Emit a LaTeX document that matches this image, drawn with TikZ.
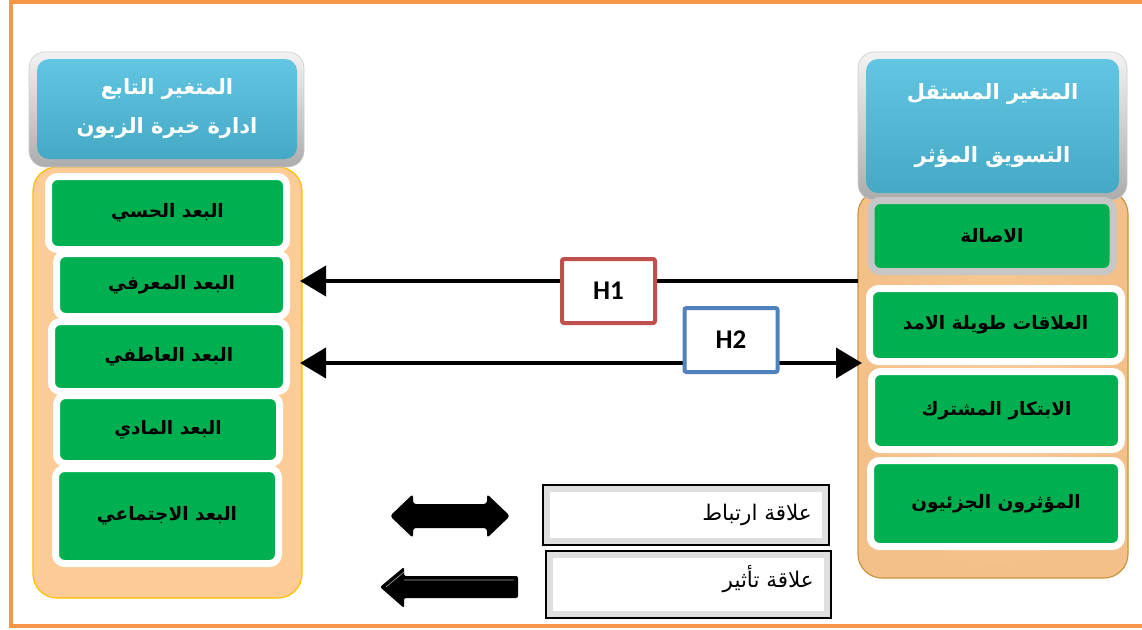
\documentclass[tikz,border=0pt]{standalone}
\usepackage{fontspec}
\setmainfont{Liberation Sans}
\newfontfamily\arfont[Script=Arabic]{DejaVu Sans}
\newfontfamily\calfont{Carlito}
\TeXXeTstate=1
\usetikzlibrary{arrows.meta,shadows}
\definecolor{frameor}{HTML}{F79646}
\definecolor{peach}{HTML}{FCCB96}
\definecolor{peachedge}{HTML}{FFC000}
\definecolor{tanedge}{HTML}{C9953F}
\definecolor{grn}{HTML}{00B050}
\definecolor{bluetop}{HTML}{62C6E2}
\definecolor{bluebot}{HTML}{45A9C6}
\definecolor{hred}{HTML}{C0504D}
\definecolor{hblue}{HTML}{4F81BD}
\tikzset{
  bgbox/.style={rounded corners=24pt, fill=peach, line width=1.2pt, inner sep=0pt},
  silver/.style={rounded corners=16pt, top color=gray!10, bottom color=gray!65, draw=gray!40, line width=0.6pt},
  headbox/.style={rounded corners=12pt, top color=bluetop, bottom color=bluebot, inner sep=0pt, align=center,
     text=white, font=\arfont\bfseries\fontsize{21}{39}\selectfont},
  gbox/.style={rounded corners=9pt, fill=grn, draw=white, line width=7pt, inner sep=0pt,
     font=\arfont\bfseries\fontsize{18.5}{22}\selectfont,
     drop shadow={shadow xshift=1.5pt, shadow yshift=-2pt, opacity=0.35}},
  hbox/.style={draw=#1, line width=4pt, fill=white, rounded corners=2pt, inner sep=0pt,
     minimum width=93pt, minimum height=64pt, font=\calfont\bfseries\fontsize{27}{30}\selectfont},
  conn/.style={line width=4pt},
  legbox/.style={draw=black, line width=2pt, fill=gray!25},
  legtext/.style={font=\arfont\fontsize{21.5}{24}\selectfont, inner sep=0pt},
}
\begin{document}
\begin{tikzpicture}[x=1pt,y=-1pt]
\useasboundingbox (0,0) rectangle (1142,629);
% outer frame
\draw[frameor, line width=4pt] (10.5,2) rectangle (1146,625.5);

% backgrounds
\node[bgbox, draw=peachedge, minimum width=269pt, minimum height=431pt] (lbg) at (167.5,382.5) {};
\node[bgbox, draw=tanedge, minimum width=270pt, minimum height=388pt, inner color=peach, outer color=peach!85!brown] (rbg) at (993,384) {};

% headers
\shade[silver] (29,52) rectangle (304,167);
\node[headbox, minimum width=260pt, minimum height=100pt] (lhead) at (167,109)
  {\beginR المتغير التابع\endR\\\beginR ادارة خبرة الزبون\endR};
\shade[silver] (858,52) rectangle (1127,200);
\node[headbox, minimum width=253pt, minimum height=134pt, font=\arfont\bfseries\fontsize{21}{63}\selectfont] (rhead) at (992.5,126)
  {\beginR المتغير المستقل\endR\\\beginR التسويق المؤثر\endR};

% left dimension boxes
\node[gbox, minimum width=238pt, minimum height=73pt] (l1) at (167.5,213) {\beginR البعد الحسي\endR};
\node[gbox, minimum width=230pt, minimum height=63pt] (l2) at (171.5,285) {\beginR البعد المعرفي\endR};
\node[gbox, minimum width=235pt, minimum height=70pt] (l3) at (169,356.5) {\beginR البعد العاطفي\endR};
\node[gbox, minimum width=223pt, minimum height=68pt] (l4) at (168,429.5) {\beginR البعد المادي\endR};
\node[gbox, minimum width=223pt, minimum height=95pt] (l5) at (167,516) {\beginR البعد الاجتماعي\endR};

% right dimension boxes
\node[gbox, draw=gray!45, minimum width=242pt, minimum height=71pt] (r1) at (992,236) {\beginR الاصالة\endR};
\node[gbox, minimum width=252pt, minimum height=73pt] (r2) at (995.5,325) {\beginR العلاقات طويلة الامد\endR};
\node[gbox, minimum width=250pt, minimum height=78pt] (r3) at (996.5,410.5) {\beginR الابتكار المشترك\endR};
\node[gbox, minimum width=251pt, minimum height=86pt] (r4) at (996,503.5) {\beginR المؤثرون الجزئيون\endR};

% connectors
\coordinate (h1s) at (858,281);
\coordinate (h1e) at (300,281);
\coordinate (h2s) at (300,363);
\coordinate (h2e) at (862,363);
\draw[conn, -{Triangle[length=26pt,width=30pt]}] (h1s) -- (h1e);
\draw[conn, {Triangle[length=26pt,width=30pt]}-{Triangle[length=26pt,width=30pt]}] (h2s) -- (h2e);
\node[hbox=hred] (h1) at (608.5,291) {H1};
\node[hbox=hblue] (h2) at (731,340) {H2};

% legend
\fill[black, rounded corners=3pt] (390,516) -- (413,494) -- (413,504) -- (487,504) -- (487,494) -- (510,516)
  -- (487,538) -- (487,528) -- (413,528) -- (413,538) -- cycle;
\fill[black, rounded corners=2pt] (380,587) -- (404,567) -- (404,576) -- (518,576) -- (518,598) -- (404,598) -- (404,608) -- cycle;
\draw[gray!70, line width=0.6pt] (386,587) -- (404,572) (404,580) -- (514,580);

\draw[legbox] (543,485) rectangle (829,545);
\fill[white] (550,492) rectangle (822,538);
\node[legtext, anchor=east] (leg1) at (812,515) {\beginR علاقة ارتباط\endR};
\draw[legbox] (546,551) rectangle (831,618);
\fill[white] (553,558) rectangle (824,611);
\node[legtext, anchor=east] (leg2) at (814,579) {\beginR علاقة تأثير\endR};
\end{tikzpicture}
\end{document}
